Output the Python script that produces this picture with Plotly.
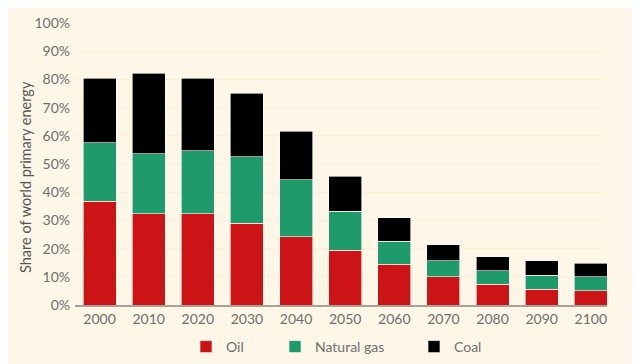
import plotly.graph_objects as go

years = ["2000", "2010", "2020", "2030", "2040", "2050", "2060", "2070", "2080", "2090", "2100"]
oil = [36.8, 32.4, 32.4, 29.0, 24.2, 19.5, 14.5, 10.0, 7.3, 5.6, 5.0]
gas_top = [57.5, 53.7, 54.7, 52.6, 44.4, 33.2, 22.6, 15.7, 12.2, 10.6, 10.0]
total = [80.4, 82.1, 80.4, 75.1, 61.6, 45.6, 30.9, 21.4, 17.2, 15.7, 14.8]
gas = [round(g - o, 1) for g, o in zip(gas_top, oil)]
coal = [round(t - g, 1) for t, g in zip(total, gas_top)]
y_title = "Share of world primary energy"

bg = "#FEF7E8"
font_family = "Lato, 'Noto Sans', sans-serif"
text_col = "#6E6E6E"

series = [("Oil", oil, "#CC1417", "legend2"), ("Natural gas", gas, "#1F9A6B", "legend3"),
          ("Coal", coal, "#000000", "legend4")]

fig = go.Figure()
for name, vals, col, lg in series:
    fig.add_trace(go.Bar(x=years, y=vals, name=name, legend=lg,
                         marker=dict(color=col, line=dict(color="#FFFFFF", width=0.6))))

# page body adds an 8px offset, so the figure is sized to the visible area
OFF = 8
W, H = 640 - OFF, 364 - OFF
PL, PR, PT, PB = 75, 607, 23, 305  # plot area in window pixels
leg_common = dict(orientation="h", xref="container", yref="container", yanchor="middle",
                  y=(364 - 347) / H, font=dict(size=14, color=text_col), itemwidth=30,
                  bgcolor="rgba(0,0,0,0)")
fig.update_layout(
    barmode="stack",
    bargap=0.33,
    width=W, height=H,
    paper_bgcolor=bg, plot_bgcolor=bg,
    margin=dict(l=PL - OFF, r=640 - PR, t=PT - OFF, b=364 - PB),
    font=dict(family=font_family, color=text_col, size=14),
    showlegend=True,
    legend2=dict(leg_common, x=(186 - OFF) / W),
    legend3=dict(leg_common, x=(275 - OFF) / W),
    legend4=dict(leg_common, x=(414 - OFF) / W),
    xaxis=dict(type="category", range=[-0.5, 10.33], showgrid=False, showline=True, automargin=False,
               linecolor="#A8A39A", linewidth=2, ticks="", tickfont=dict(size=14, color=text_col)),
    yaxis=dict(range=[0, 100], dtick=10, ticksuffix="%", showgrid=True, gridcolor="#FCEED3",
               gridwidth=1, zeroline=False, ticks="", ticklabelstandoff=4, automargin=False,
               tickfont=dict(size=14, color=text_col)),
    annotations=[dict(text=y_title, textangle=-90, showarrow=False, xref="paper", yref="paper",
                      x=(25 - PL) / (PR - PL), y=(PB - 177) / (PB - PT), xanchor="center",
                      yanchor="middle", font=dict(size=14.5, color="#555555"))],
)

fig.write_html("out.html")
